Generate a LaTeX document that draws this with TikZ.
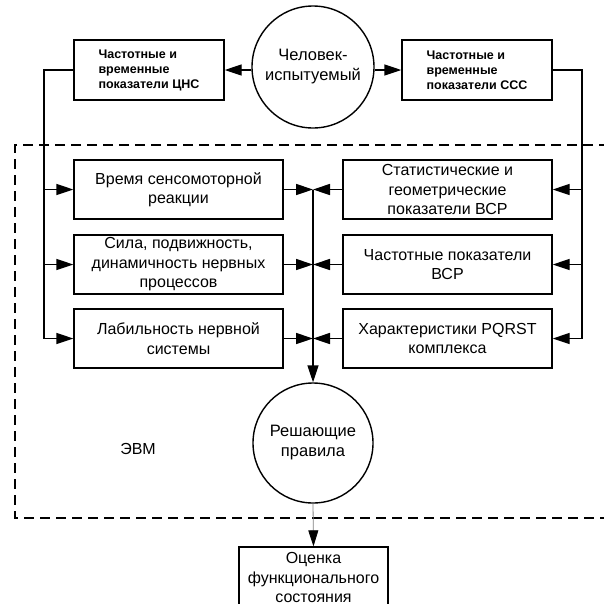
\documentclass[tikz,border=0pt]{standalone}
\usepackage{fontspec}
\setmainfont{Liberation Sans}
\usetikzlibrary{arrows.meta}
\begin{document}
\begin{tikzpicture}[x=1pt,y=-1pt,
  lw/.style={line width=1.4pt},
  blk/.style={draw, lw, rectangle, minimum width=209pt, minimum height=59pt, inner sep=0pt, align=center, font=\fontsize{16}{19.5}\selectfont},
  topbox/.style={draw, lw, rectangle, minimum width=150pt, minimum height=60pt, inner sep=0pt, align=left, font=\fontsize{12.5}{15}\selectfont\bfseries},
  roundnode/.style={draw, lw, circle, inner sep=0pt, align=center, font=\fontsize{16.5}{20}\selectfont},
  plain/.style={inner sep=0pt, align=center, font=\fontsize{16}{19.5}\selectfont},
  arr/.style={lw, -{Triangle[length=17pt,width=11pt]}},
]
\useasboundingbox (0,0) rectangle (604,603);

% dashed computer frame
\draw[lw, dash pattern=on 10pt off 6pt] (625,145) -- (15,145) -- (15,518) -- (625,518);

% top row
\node[roundnode, minimum size=122pt] (man) at (313,67) {Человек-\\испытуемый};
\node[topbox] (tl) at (149,70) {Частотные и\\временные\\показатели ЦНС};
\node[topbox] (tr) at (477,70) {Частотные и\\временные\\показатели ССС};
\draw[arr] (man.west |- tl.east) -- (tl.east);
\draw[arr] (man.east |- tr.west) -- (tr.west);

% left column
\node[blk] (b1) at (178.5,189.5) {Время сенсомоторной\\реакции};
\node[blk] (b2) at (178.5,264.5) {Сила, подвижность,\\динамичность нервных\\процессов};
\node[blk] (b3) at (178.5,338.5) {Лабильность нервной\\системы};

% right column
\node[blk] (c1) at (447.5,189.5) {Статистические и\\геометрические\\показатели ВСР};
\node[blk] (c2) at (447.5,264.5) {Частотные показатели\\ВСР};
\node[blk] (c3) at (447.5,338.5) {Характеристики PQRST\\комплекса};

% decision rules
\node[roundnode, minimum size=120pt] (rules) at (313,443) {Решающие\\правила};
\node[plain] (evm) at (138,449) {ЭВМ};

% result
\node[draw, lw, rectangle, minimum width=149pt, minimum height=61pt, inner sep=0pt, align=center, font=\fontsize{16}{19.5}\selectfont] (res) at (313.5,577.5) {Оценка\\функционального\\состояния};

% coordinates of the side buses
\coordinate (l0) at (44,70);
\coordinate (r0) at (582,70);
\coordinate (l3) at (l0 |- b3.west);
\coordinate (r3) at (r0 |- c3.east);
\coordinate (j1) at (rules.north |- b1.east);
\coordinate (j2) at (rules.north |- b2.east);
\coordinate (j3) at (rules.north |- b3.east);

% left bus
\draw[lw] (tl.west) -- (l0) -- (l3);
\draw[arr] (l0 |- b1.west) -- (b1.west);
\draw[arr] (l0 |- b2.west) -- (b2.west);
\draw[arr] (l3) -- (b3.west);

% right bus
\draw[lw] (tr.east) -- (r0) -- (r3);
\draw[arr] (r0 |- c1.east) -- (c1.east);
\draw[arr] (r0 |- c2.east) -- (c2.east);
\draw[arr] (r3) -- (c3.east);

% into the junction
\draw[arr] (b1.east) -- (j1);
\draw[arr] (b2.east) -- (j2);
\draw[arr] (b3.east) -- (j3);
\draw[arr] (c1.west) -- (j1);
\draw[arr] (c2.west) -- (j2);
\draw[arr] (c3.west) -- (j3);
\draw[arr] (j1) -- (rules.north);

% output
\draw[gray, line width=0.8pt, -{Triangle[length=16pt,width=10pt,black]}] (rules.south) -- (res.north);
\end{tikzpicture}
\end{document}
